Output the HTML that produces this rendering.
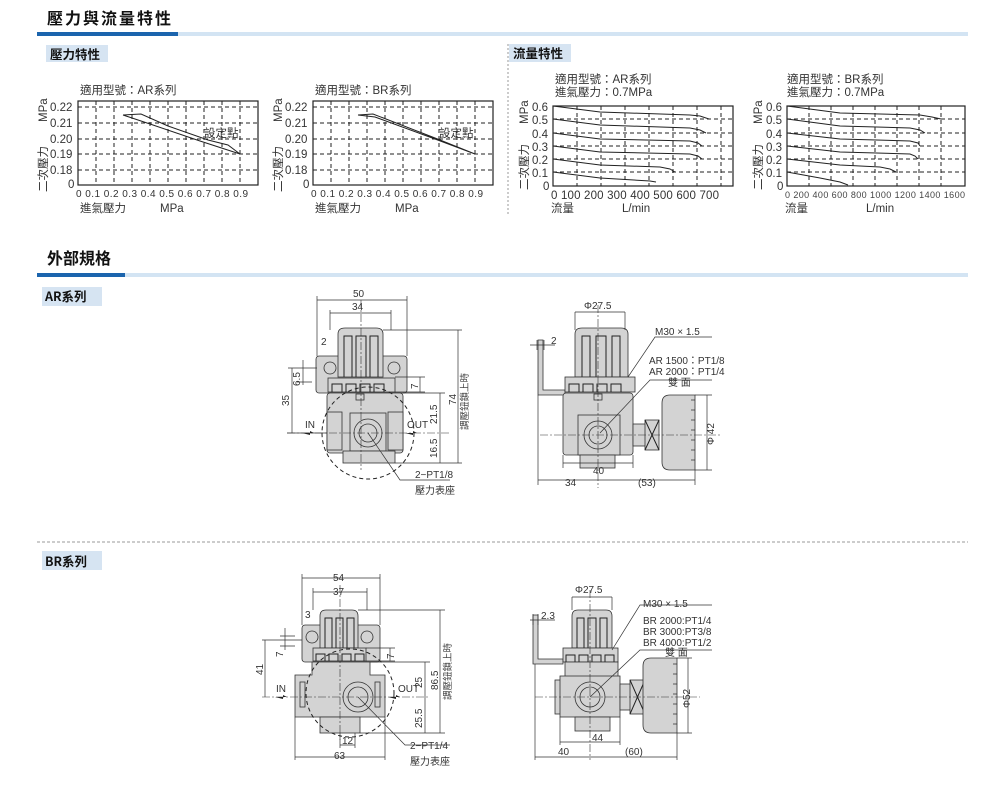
<!DOCTYPE html>
<html><head><meta charset="utf-8"><style>
html,body{margin:0;padding:0;background:#fff;}
svg{display:block;font-family:"Liberation Sans","Noto Sans CJK TC",sans-serif;}
.t{font-size:10px;fill:#333}
.s{font-size:9.5px;fill:#444}
.y{font-size:11.5px;fill:#333}
.h{font-size:16px;font-weight:bold;fill:#111;font-family:"Noto Sans CJK TC",sans-serif}
.h2{font-size:12.5px;font-weight:bold;fill:#111;font-family:"Noto Sans CJK TC",sans-serif}
.g{stroke:#222;stroke-width:1;stroke-dasharray:4,3;fill:none}
.b{stroke:#222;stroke-width:1.2;fill:none}
.c{stroke:#222;stroke-width:1;fill:none}
.d{stroke:#333;stroke-width:0.7;fill:none}
.p{fill:#d3d3d3;stroke:#333;stroke-width:0.8}
.cl{stroke:#333;stroke-width:0.6;stroke-dasharray:8,2,2,2;fill:none}
</style></head><body>
<svg width="1000" height="791" viewBox="0 0 1000 791" xmlns="http://www.w3.org/2000/svg">
<text x="47" y="24" class="h" letter-spacing="2">壓力與流量特性</text>
<rect x="37" y="32" width="141" height="4" fill="#1b64ad"/>
<rect x="178" y="32" width="790" height="4" fill="#d3e4f3"/>
<rect x="46" y="45" width="62" height="17" fill="#d6e4f2"/>
<text x="50" y="59" class="h2">壓力特性</text>
<rect x="509" y="44" width="62" height="18" fill="#d6e4f2"/>
<text x="513" y="58" class="h2">流量特性</text>
<line x1="508" y1="44" x2="508" y2="215" stroke="#999" stroke-dasharray="2,2"/>

<g>
<text x="80" y="94" class="y">適用型號：AR系列</text>
<rect x="78" y="101" width="180" height="84" class="b"/>
<path class="g" d="M78 107H258M78 123H258M78 139H258M78 154H258M78 170H258M96 101V185M114 101V185M132 101V185M150 101V185M168 101V185M186 101V185M204 101V185M222 101V185M240 101V185"/>
<text x="50" y="111" class="y">0.22</text><text x="50" y="127" class="y">0.21</text><text x="50" y="143" class="y">0.20</text><text x="50" y="158" class="y">0.19</text><text x="50" y="174" class="y">0.18</text><text x="68" y="188" class="y">0</text>
<text x="76" y="197" class="t" textLength="172">0  0.1 0.2 0.3 0.4 0.5 0.6 0.7 0.8 0.9</text>
<text x="80" y="212" class="y">進氣壓力</text><text x="160" y="212" class="y">MPa</text>
<text transform="translate(47,122) rotate(-90)" class="y">MPa</text>
<text transform="translate(47,192) rotate(-90)" class="y">二次壓力</text>
<path class="c" d="M123 115L141 114L168 126L208 140L228 145L240 154M123 115L150 124L200 141L240 154"/>
<text x="204" y="137" class="y">設定點</text>
</g>
<g transform="translate(235,0)">
<text x="80" y="94" class="y">適用型號：BR系列</text>
<rect x="78" y="101" width="180" height="84" class="b"/>
<path class="g" d="M78 107H258M78 123H258M78 139H258M78 154H258M78 170H258M96 101V185M114 101V185M132 101V185M150 101V185M168 101V185M186 101V185M204 101V185M222 101V185M240 101V185"/>
<text x="50" y="111" class="y">0.22</text><text x="50" y="127" class="y">0.21</text><text x="50" y="143" class="y">0.20</text><text x="50" y="158" class="y">0.19</text><text x="50" y="174" class="y">0.18</text><text x="68" y="188" class="y">0</text>
<text x="76" y="197" class="t" textLength="172">0  0.1 0.2 0.3 0.4 0.5 0.6 0.7 0.8 0.9</text>
<text x="80" y="212" class="y">進氣壓力</text><text x="160" y="212" class="y">MPa</text>
<text transform="translate(47,122) rotate(-90)" class="y">MPa</text>
<text transform="translate(47,192) rotate(-90)" class="y">二次壓力</text>
<path class="c" d="M123 115L138 114L200 138L240 154M123 115L140 117L200 139L240 154"/>
<text x="204" y="137" class="y">設定點</text>
</g>

<g>
<text x="555" y="83" class="y">適用型號：AR系列</text>
<text x="555" y="96" class="y">進氣壓力：0.7MPa</text>
<rect x="553" y="106" width="180" height="80" class="b"/>
<path class="g" d="M553 119H733M553 133H733M553 146H733M553 159H733M553 172H733M577 106V186M601 106V186M625 106V186M649 106V186M673 106V186M697 106V186M721 106V186"/>
<text x="532" y="111" class="y">0.6</text><text x="532" y="124" class="y">0.5</text><text x="532" y="138" class="y">0.4</text><text x="532" y="151" class="y">0.3</text><text x="532" y="164" class="y">0.2</text><text x="532" y="177" class="y">0.1</text><text x="543" y="190" class="y">0</text>
<text x="551" y="199" class="y" textLength="168">0  100 200 300 400 500 600 700</text>
<text x="551" y="212" class="y">流量</text><text x="622" y="212" class="y">L/min</text>
<text transform="translate(528,124) rotate(-90)" class="y">MPa</text>
<text transform="translate(528,190) rotate(-90)" class="y">二次壓力</text>
<path class="c" d="M553 106L600 112L690 115L700 116L709 119M553 119L600 125L690 128L700 130L706 133M553 133L600 139L690 141L698 143L702 146M553 146L600 152L690 154L698 156L702 159M553 159L600 165L660 167L670 169L675 172M553 172L600 178L650 181L656 182"/>
</g>
<g>
<text x="787" y="83" class="y">適用型號：BR系列</text>
<text x="787" y="96" class="y">進氣壓力：0.7MPa</text>
<rect x="787" y="106" width="178" height="80" class="b"/>
<path class="g" d="M787 119H965M787 133H965M787 146H965M787 159H965M787 172H965M809 106V186M831 106V186M853 106V186M875 106V186M897 106V186M919 106V186M941 106V186"/>
<text x="766" y="111" class="y">0.6</text><text x="766" y="124" class="y">0.5</text><text x="766" y="138" class="y">0.4</text><text x="766" y="151" class="y">0.3</text><text x="766" y="164" class="y">0.2</text><text x="766" y="177" class="y">0.1</text><text x="777" y="190" class="y">0</text>
<text x="785" y="198" class="s" textLength="180" style="font-size:9px">0  200 400 600 800 1000 1200 1400 1600</text>
<text x="785" y="212" class="y">流量</text><text x="866" y="212" class="y">L/min</text>
<text transform="translate(762,124) rotate(-90)" class="y">MPa</text>
<text transform="translate(762,190) rotate(-90)" class="y">二次壓力</text>
<path class="c" d="M787 106L840 113L920 115L932 117L941 119M787 119L840 126L910 128L920 130L925 133M787 133L840 139L910 141L918 143L920 146M787 146L840 152L910 154L915 156L918 159M787 159L840 165L880 167L890 169L896 172M787 172L820 178L840 182L848 185"/>
</g>

<text x="47" y="264" class="h">外部規格</text>
<rect x="37" y="273" width="88" height="4" fill="#1b64ad"/>
<rect x="125" y="273" width="843" height="4" fill="#d3e4f3"/>
<rect x="42" y="287" width="60" height="19" fill="#d6e4f2"/>
<text x="45" y="301" class="h2">AR系列</text>
<line x1="37" y1="542" x2="968" y2="542" stroke="#999" stroke-dasharray="3,2"/>
<rect x="42" y="551" width="60" height="19" fill="#d6e4f2"/>
<text x="45" y="566" class="h2">BR系列</text>

<g>
<rect x="316" y="356" width="91" height="37" rx="3" class="p"/>
<circle cx="330" cy="368" r="6" class="p"/><circle cx="394" cy="368" r="6" class="p"/>
<path class="p" d="M338 377V334Q338 328 345 328H376Q383 328 383 334V377Z"/>
<path class="c" d="M344 377V336H352V377M356 377V336H366V377M370 377V336H378V377"/>
<rect x="328" y="378" width="67" height="14" class="p"/>
<path class="c" d="M332 392V384H342V392M346 392V384H356V392M360 392V384H370V392M374 392V384H384V392"/>
<rect x="327" y="393" width="76" height="60" rx="3" class="p"/>
<rect x="327" y="412" width="15" height="38" class="p"/><rect x="388" y="412" width="15" height="38" class="p"/>
<rect x="350" y="413" width="36" height="38" class="p"/>
<circle cx="368" cy="433" r="14" class="p"/><circle cx="368" cy="433" r="9" class="p"/>
<rect x="343" y="451" width="52" height="12" class="p"/>
<rect x="356" y="394" width="8" height="6" class="p"/>
<circle cx="368" cy="433" r="46" class="g" stroke-width="0.8"/>
<path class="cl" d="M287 433H450M361 300V470"/>
<path class="d" d="M317 296V356M407 296V356M317 300H407M330 310V330M391 310V330M330 313H391M317 368H288M292 368V433M303 360V385M297 368H312M297 382H312M383 330H462M458 330V463M403 393H445M440 393V463M395 463H462M395 377H425M395 392H425M420 377V392M327 433H287"/>
<path class="d" d="M368 433L400 480H450"/>
<path d="M302 433h12l-4-2v4z" fill="#222"/><path d="M405 433h12l-4-2v4z" fill="#222"/>
<text x="353" y="297" class="t">50</text><text x="352" y="310" class="t">34</text>
<text x="321" y="345" class="t">2</text>
<text transform="translate(300,386) rotate(-90)" class="t">6.5</text>
<text transform="translate(289,406) rotate(-90)" class="t">35</text>
<text transform="translate(418,389) rotate(-90)" class="t">7</text>
<text transform="translate(437,424) rotate(-90)" class="t">21.5</text>
<text transform="translate(437,458) rotate(-90)" class="t">16.5</text>
<text transform="translate(456,405) rotate(-90)" class="t">74</text>
<text transform="translate(468,430) rotate(-90)" class="s">調壓鈕鎖上時</text>
<text x="305" y="428" class="t">IN</text><text x="407" y="428" class="t">OUT</text>
<text x="415" y="478" class="t">2−PT1/8</text><text x="415" y="494" class="t">壓力表座</text>
</g>

<g>
<path class="p" d="M538 340H543V390H565V395H538Z"/>
<path class="p" d="M575 377V334Q575 328 582 328H621Q628 328 628 334V377Z"/>
<path class="c" d="M582 377V336H590V377M596 377V336H606V377M612 377V336H620V377"/>
<rect x="565" y="377" width="70" height="15" class="p"/>
<path class="c" d="M569 392V384H579V392M583 392V384H593V392M597 392V384H607V392M611 392V384H621V392"/>
<rect x="563" y="393" width="70" height="62" rx="3" class="p"/>
<rect x="578" y="415" width="42" height="40" class="p"/>
<circle cx="598" cy="435" r="14" class="p"/><circle cx="598" cy="435" r="9" class="p"/>
<rect x="580" y="455" width="35" height="13" class="p"/>
<rect x="594" y="394" width="8" height="6" class="p"/>
<rect x="633" y="424" width="14" height="22" class="p"/>
<rect x="645" y="420" width="14" height="30" class="p"/><path class="c" d="M645 420L659 450M659 420L645 450"/>
<path class="p" d="M670 395H695V470H670Q662 470 662 462V403Q662 395 670 395Z"/>
<path class="d" d="M695 400h-4M695 410h-4M695 420h-4M695 430h-4M695 440h-4M695 450h-4M695 460h-4"/>
<path class="cl" d="M540 435H720M598 305V488"/>
<path class="d" d="M575 312V330M625 312V330M575 312H625M530 345H555M537 340V350M544 340V350M695 395H712M695 470H712M707 395V470M563 463H633M563 455V468M633 455V468M538 395V485M695 470V485M538 480H695M628 377L655 337H712M600 433L650 380H712"/>
<text x="584" y="309" class="t">Φ27.5</text><text x="551" y="344" class="t">2</text>
<text x="655" y="335" class="t">M30 × 1.5</text>
<text x="649" y="364" class="t">AR 1500：PT1/8</text>
<text x="649" y="375" class="t">AR 2000：PT1/4</text>
<text x="668" y="386" class="t">雙 面</text>
<text transform="translate(714,445) rotate(-90)" class="t">Φ 42</text>
<text x="593" y="474" class="t">40</text><text x="565" y="486" class="t">34</text><text x="638" y="486" class="t">(53)</text>
</g>

<g>
<rect x="302" y="625" width="78" height="37" rx="3" class="p"/>
<circle cx="312" cy="637" r="6" class="p"/><circle cx="367" cy="637" r="6" class="p"/>
<path class="p" d="M320 648V616Q320 610 326 610H352Q358 610 358 616V648Z"/>
<path class="c" d="M325 648V618H332V648M336 648V618H343V648M347 648V618H354V648"/>
<rect x="313" y="648" width="53" height="13" class="p"/>
<path class="c" d="M316 661V654H325V661M329 661V654H338V661M342 661V654H351V661M355 661V654H364V661"/>
<path class="p" d="M312 662H370V675H385V717H295V675H312Z"/>
<circle cx="358" cy="697" r="15" class="p"/><circle cx="358" cy="697" r="10" class="p"/>
<rect x="300" y="682" width="5" height="25" class="p"/><rect x="375" y="682" width="5" height="25" class="p"/>
<rect x="320" y="717" width="40" height="16" class="p"/>
<circle cx="350" cy="693" r="44" class="g" stroke-width="0.8"/>
<path class="cl" d="M262 697H430M340 585V740"/>
<path class="d" d="M302 574V625M380 574V625M302 578H380M313 588V610M367 588V610M313 592H367M302 640H262M265 640V697M285 628V650M280 636H295M280 646H295M358 610H445M440 610V733M370 662H430M425 662V733M360 733H445M366 648H395M366 661H395M390 648V661M295 717V760M385 717V760M295 757H385M340 733V748M355 733V748M340 745H355M358 697L405 745H450"/>
<path d="M275 697h12l-4-2v4z" fill="#222"/><path d="M388 697h12l-4-2v4z" fill="#222"/>
<text x="333" y="581" class="t">54</text><text x="333" y="595" class="t">37</text><text x="305" y="618" class="t">3</text>
<text transform="translate(283,657) rotate(-90)" class="t">7</text>
<text transform="translate(263,675) rotate(-90)" class="t">41</text>
<text transform="translate(394,659) rotate(-90)" class="t">7</text>
<text transform="translate(422,688) rotate(-90)" class="t">25</text>
<text transform="translate(422,728) rotate(-90)" class="t">25.5</text>
<text transform="translate(438,690) rotate(-90)" class="t">86.5</text>
<text transform="translate(451,700) rotate(-90)" class="s">調壓鈕鎖上時</text>
<text x="276" y="692" class="t">IN</text><text x="398" y="692" class="t">OUT</text>
<text x="342" y="744" class="t">12</text><text x="334" y="759" class="t">63</text>
<text x="410" y="749" class="t">2−PT1/4</text><text x="410" y="765" class="t">壓力表座</text>
</g>

<g>
<path class="p" d="M533 615H538V659H563V664H533Z"/>
<path class="p" d="M572 648V616Q572 610 578 610H606Q612 610 612 616V648Z"/>
<path class="c" d="M577 648V618H584V648M588 648V618H596V648M600 648V618H607V648"/>
<rect x="563" y="648" width="55" height="14" class="p"/>
<path class="c" d="M566 662V655H575V662M579 662V655H588V662M592 662V655H601V662M605 662V655H614V662"/>
<rect x="565" y="662" width="53" height="15" class="p"/>
<rect x="555" y="680" width="8" height="34" class="p"/>
<rect x="560" y="676" width="60" height="41" class="p"/>
<circle cx="590" cy="697" r="15" class="p"/><circle cx="590" cy="697" r="10" class="p"/>
<rect x="575" y="717" width="35" height="14" class="p"/>
<rect x="620" y="684" width="12" height="26" class="p"/>
<rect x="630" y="680" width="15" height="34" class="p"/><path class="c" d="M630 680L645 714M645 680L630 714"/>
<path class="p" d="M651 658H677V733H651Q643 733 643 725V666Q643 658 651 658Z"/>
<path class="d" d="M677 664h-4M677 674h-4M677 684h-4M677 694h-4M677 704h-4M677 714h-4M677 724h-4"/>
<path class="cl" d="M535 697H700M590 590V760"/>
<path class="d" d="M572 597V610M612 597V610M572 597H612M530 620H555M533 614V625M538 614V625M677 658H692M677 733H692M688 658V733M560 742H620M560 717V745M620 717V745M535 664V760M677 733V760M535 757H677M612 650L640 605H712M590 697L640 650H712"/>
<text x="575" y="593" class="t">Φ27.5</text><text x="541" y="619" class="t">2.3</text>
<text x="643" y="607" class="t">M30 × 1.5</text>
<text x="643" y="624" class="t">BR 2000:PT1/4</text>
<text x="643" y="635" class="t">BR 3000:PT3/8</text>
<text x="643" y="646" class="t">BR 4000:PT1/2</text>
<text x="665" y="656" class="t">雙 面</text>
<text transform="translate(690,708) rotate(-90)" class="t">Φ52</text>
<text x="592" y="741" class="t">44</text><text x="558" y="755" class="t">40</text><text x="625" y="755" class="t">(60)</text>
</g>
</svg>
</body></html>
